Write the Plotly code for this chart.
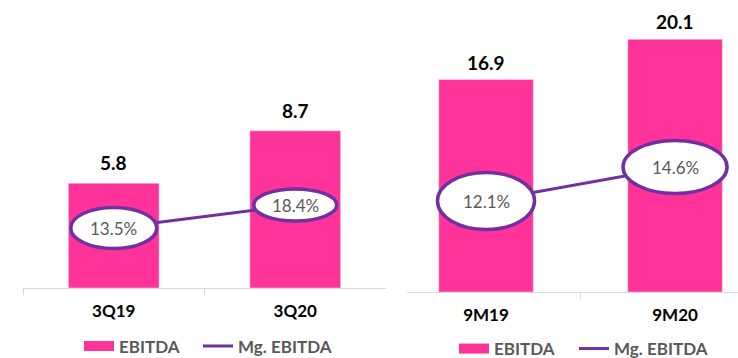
import plotly.graph_objects as go

# ---- data ----
q_cats = ["3Q19", "3Q20"]
q_ebitda = [5.8, 8.7]
q_margin = [13.5, 18.4]

m_cats = ["9M19", "9M20"]
m_ebitda = [16.9, 20.1]
m_margin = [12.1, 14.6]

series_names = ["EBITDA", "Mg. EBITDA"]

# ---- style ----
PINK = "#FF3399"
PURPLE = "#7030A0"
GRAY = "#595959"
AXIS = "#D9D9D9"
FONT = "Lato"
W, H = 738, 358

q_ell = [(86, 41), (83, 32)]
m_ell = [(97, 57), (104, 53)]

fig = go.Figure()


def add_traces(cats, vals, margins, xa, ya, ya2, leg_a, leg_b):
    fig.add_trace(go.Bar(x=cats, y=vals, marker_color=PINK, width=0.5,
                         xaxis=xa, yaxis=ya, showlegend=False, hoverinfo="skip"))
    fig.add_trace(go.Scatter(x=cats, y=margins, mode="lines", line=dict(color=PURPLE, width=3),
                             xaxis=xa, yaxis=ya2, showlegend=False, hoverinfo="skip"))
    # legend entries
    fig.add_trace(go.Scatter(x=[None], y=[None], mode="lines", line=dict(color=PINK, width=11),
                             name=series_names[0], legend=leg_a, xaxis=xa, yaxis=ya))
    fig.add_trace(go.Scatter(x=[None], y=[None], mode="lines", line=dict(color=PURPLE, width=3),
                             name=series_names[1], legend=leg_b, xaxis=xa, yaxis=ya))


add_traces(q_cats, q_ebitda, q_margin, "x", "y", "y2", "legend", "legend2")
add_traces(m_cats, m_ebitda, m_margin, "x2", "y3", "y4", "legend3", "legend4")

shapes = []
annotations = []


def add_panel(cats, vals, margins, xref, yref, y2ref, ells, vshift):
    for c, v, m, (ew, eh) in zip(cats, vals, margins, ells):
        annotations.append(dict(x=c, y=v, xref=xref, yref=yref, text=f"{v:.1f}",
                                showarrow=False, yanchor="bottom", yshift=vshift,
                                font=dict(family=FONT, size=19, color="#000000", weight="bold")))
        shapes.append(dict(type="circle", xref=xref, yref=y2ref, xsizemode="pixel",
                           ysizemode="pixel", xanchor=c, yanchor=m,
                           x0=-ew / 2, x1=ew / 2, y0=-eh / 2, y1=eh / 2,
                           fillcolor="white", line=dict(color=PURPLE, width=3.5), layer="above"))
        annotations.append(dict(x=c, y=m, xref=xref, yref=y2ref, text=f"{m:.1f}%",
                                showarrow=False,
                                font=dict(family=FONT, size=17, color=GRAY)))


add_panel(q_cats, q_ebitda, q_margin, "x", "y", "y2", q_ell, 7)
add_panel(m_cats, m_ebitda, m_margin, "x2", "y3", "y4", m_ell, 4)

xcommon = dict(type="category", showgrid=False, zeroline=False, showline=True, linecolor=AXIS,
               linewidth=1, ticks="outside", tickson="boundaries", ticklen=6, tickcolor=AXIS,
               ticklabelstandoff=8,
               tickfont=dict(family=FONT, size=17, color="#000000", weight="bold"), fixedrange=True)
ycommon = dict(visible=False, showgrid=False, zeroline=False, fixedrange=True)

legcommon = dict(orientation="h", xanchor="left", yanchor="middle",
                 font=dict(family=FONT, size=17, color=GRAY, weight="bold"),
                 bgcolor="rgba(0,0,0,0)", itemclick=False, itemdoubleclick=False)

fig.update_layout(
    width=W, height=H,
    margin=dict(l=0, r=0, t=0, b=0, autoexpand=False),
    paper_bgcolor="white", plot_bgcolor="rgba(0,0,0,0)",
    xaxis=dict(xcommon, domain=[23 / W, 386 / W], range=[-0.5, 1.5], anchor="y"),
    yaxis=dict(ycommon, domain=[70 / H, 1], range=[0, 15.94], anchor="x"),
    yaxis2=dict(ycommon, domain=[70 / H, 1], range=[0.72, 62.07], overlaying="y", anchor="x"),
    xaxis2=dict(xcommon, domain=[407 / W, 1], range=[-0.418, 1.333], anchor="y3"),
    yaxis3=dict(ycommon, domain=[66 / H, 1], range=[0, 23.23], anchor="x2"),
    yaxis4=dict(ycommon, domain=[66 / H, 1], range=[5.41, 26.88], overlaying="y3", anchor="x2"),
    legend=dict(legcommon, x=79 / W, y=1 - 346.5 / H),
    legend2=dict(legcommon, x=198 / W, y=1 - 346.5 / H),
    legend3=dict(legcommon, x=454 / W, y=1 - 349 / H),
    legend4=dict(legcommon, x=574 / W, y=1 - 349 / H),
    shapes=shapes,
    annotations=annotations,
    showlegend=True,
)

fig.write_html("out.html", config={"displayModeBar": False})
